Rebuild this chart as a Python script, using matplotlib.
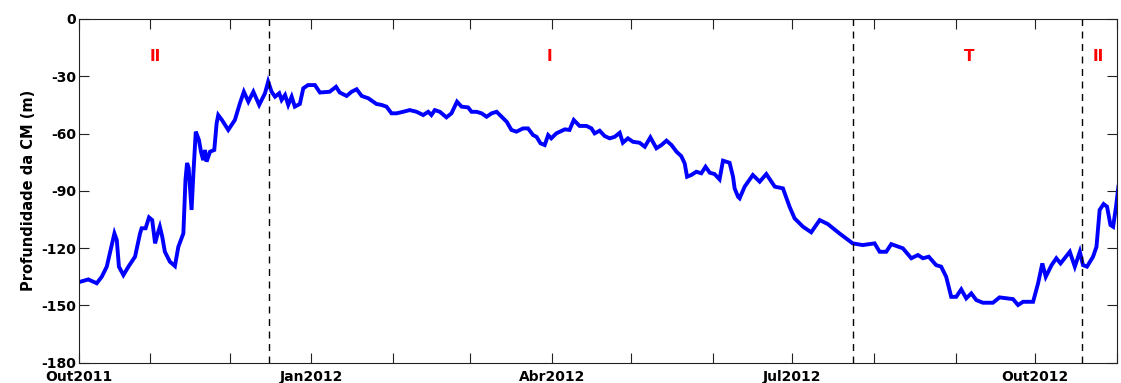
import pandas as pd
import matplotlib.pyplot as plt

# Mixed-layer depth series (days since 2011-10-05, depth in m)
start_date = pd.Timestamp('2011-10-05')
days = [0, 3.5, 6.7, 8.6, 10.5, 11.7, 13.4, 14.3, 15.1, 16.8, 18.7, 21.2, 23.1, 23.7,
        25.2, 26.5, 27.7, 28.8, 29.8, 30.6, 31.5, 32.5, 34.4, 36.3, 37.6, 39.5, 40.3,
        40.9, 41.5, 42.0, 42.6, 43.3, 44.2, 45.4, 46.2, 47.0, 47.7, 48.3, 49.6, 51.2,
        52.1, 52.7, 54.1, 56.5, 59.0, 60.9, 62.4, 64.1, 66.0, 68.2, 70.4, 71.6, 72.9,
        74.2, 75.8, 76.7, 78.0, 79.2, 80.5, 81.7, 83.6, 84.9, 86.7, 89.3, 91.2, 94.9,
        97.3, 98.7, 101.3, 103.2, 105.1, 107.0, 109.5, 112.6, 114.5, 116.4, 118.3,
        120.2, 122.7, 125.2, 127.8, 130.3, 132.2, 133.4, 134.7, 136.6, 139.1, 141.0,
        143.1, 144.8, 147.3, 148.6, 150.5, 152.4, 154.3, 156.2, 158.1, 160.0, 161.9,
        163.7, 165.6, 168.1, 170.0, 171.9, 173.2, 174.7, 176.3, 177.6, 178.8, 180.7,
        183.9, 185.7, 187.3, 189.5, 192.1, 194.0, 195.2, 197.1, 199.0, 200.9, 202.8,
        204.7, 205.9, 207.8, 209.7, 212.2, 214.2, 216.3, 218.6, 220.5, 222.4, 224.3,
        226.2, 228.0, 229.3, 230.2, 231.8, 233.7, 235.6, 237.2, 238.8, 240.6, 242.5,
        243.8, 246.3, 247.6, 248.2, 249.5, 250.1, 252.0, 255.1, 257.7, 260.2, 263.4,
        266.5, 269.0, 270.9, 274.1, 277.2, 280.4, 283.5, 287.9, 292.9, 296.7, 301.2,
        303.1, 305.6, 307.5, 311.9, 315.1, 317.6, 319.5, 321.7, 324.5, 326.4, 328.3,
        330.2, 332.1, 334.0, 335.9, 337.8, 339.7, 342.2, 346.0, 348.5, 353.6, 355.5,
        357.4, 361.2, 363.1, 364.7, 366.0, 368.2, 370.0, 371.6, 373.6, 375.1, 377.0,
        378.9, 380.1, 381.6, 383.9, 385.2, 386.4, 387.9, 389.2, 390.5, 391.5, 392.6,
        393.5]
depth = [-137.8, -136.4, -138.4, -135.0, -129.7, -122.6, -112.3, -115.8, -129.7, -134.1,
         -129.7, -124.5, -112.3, -109.6, -109.6, -103.9, -105.3, -117.5, -112.3, -108.8,
         -114.0, -121.9, -127.1, -129.4, -119.3, -112.3, -84.3, -75.4, -78.0, -87.8,
         -100.0, -80.8, -59.0, -63.4, -69.7, -73.9, -68.6, -74.7, -69.5, -68.6, -54.6,
         -50.3, -52.9, -58.1, -52.9, -44.2, -38.1, -43.3, -38.1, -45.0, -38.9, -32.8,
         -38.1, -40.7, -38.9, -42.4, -39.8, -45.0, -40.7, -45.9, -44.5, -36.3, -34.6,
         -34.6, -38.5, -38.1, -35.5, -38.5, -40.3, -38.1, -36.8, -40.3, -41.5, -44.5,
         -45.0, -45.9, -49.4, -49.4, -48.6, -47.7, -48.6, -50.3, -48.6, -50.3, -47.7,
         -48.6, -51.5, -49.4, -43.3, -45.9, -46.3, -48.6, -48.6, -49.4, -51.2, -49.4,
         -48.6, -51.2, -53.8, -58.1, -59.0, -57.3, -57.3, -60.8, -61.7, -65.1, -66.0,
         -60.8, -62.5, -59.9, -57.8, -58.1, -52.9, -56.0, -56.0, -57.3, -59.9, -58.5,
         -61.3, -62.5, -61.7, -59.6, -64.8, -62.5, -64.3, -64.8, -66.9, -62.0, -67.7,
         -66.0, -63.7, -66.0, -69.5, -71.8, -75.6, -82.6, -81.7, -80.0, -80.8, -77.4,
         -80.5, -81.2, -84.0, -74.2, -75.3, -82.6, -88.7, -93.1, -93.9, -87.8, -81.7,
         -85.2, -81.2, -87.8, -88.7, -98.3, -104.4, -108.8, -111.7, -105.3, -107.4,
         -112.3, -117.5, -118.4, -117.5, -121.9, -121.9, -117.9, -120.1, -125.3, -123.6,
         -125.3, -124.5, -128.9, -129.7, -135.0, -145.5, -145.5, -141.6, -146.3, -143.7,
         -147.2, -148.6, -148.6, -145.8, -146.7, -149.8, -148.1, -148.1, -138.4, -128.0,
         -135.0, -128.9, -125.3, -128.0, -124.5, -121.9, -129.7, -121.9, -128.9, -129.7,
         -124.5, -119.3, -100.0, -96.9, -98.3, -107.9, -108.8, -98.3, -87.8]

# Regime boundaries and labels
boundaries = ['2011-12-16', '2012-07-24', '2012-10-18 14:00']
regime_names = ['II', 'I', 'T', 'II']
regime_dates = ['2011-11-03', '2012-03-31', '2012-09-06', '2012-10-25']

tick_dates = ['2011-10-05', '2011-11-01', '2011-12-01', '2012-01-01', '2012-02-01',
              '2012-03-01', '2012-04-01', '2012-05-01', '2012-06-01', '2012-07-01',
              '2012-08-01', '2012-09-01', '2012-10-01', '2012-11-01']
tick_labels = ['Out2011', '', '', 'Jan2012', '', '', 'Abr2012', '', '', 'Jul2012',
               '', '', 'Out2012', '']
yticks = [0, -30, -60, -90, -120, -150, -180]


def main():
    dates = start_date + pd.to_timedelta(days, unit='D')

    fig = plt.figure(figsize=(11.21, 3.83), dpi=100)
    ax = fig.add_axes([0.0705, 0.053, 0.926, 0.8974])

    ax.plot(dates, depth, color='#0000ff', linewidth=2.8, solid_joinstyle='miter')

    for b in boundaries:
        ax.axvline(pd.Timestamp(b), color='black', linestyle=(0, (5, 4)), linewidth=1.0)

    for name, d in zip(regime_names, regime_dates):
        ax.text(pd.Timestamp(d), -19.5, name, color='red', fontsize=11,
                fontweight='bold', ha='center', va='center')

    ax.set_xlim(pd.Timestamp('2011-10-05'), pd.Timestamp('2012-11-01'))
    ax.set_ylim(-180, 0)
    ax.set_xticks([pd.Timestamp(t) for t in tick_dates])
    ax.set_xticklabels(tick_labels)
    ax.set_yticks(yticks)
    ax.set_yticklabels([str(v) for v in yticks])
    ax.tick_params(direction='in', length=7.5, width=0.8, top=True, right=True,
                   labelsize=10, colors='#222222')
    ax.tick_params(axis='x', pad=5)
    ax.tick_params(axis='y', pad=2)
    for lab in ax.get_xticklabels() + ax.get_yticklabels():
        lab.set_fontweight('bold')
        lab.set_color('black')
    for s in ax.spines.values():
        s.set_linewidth(0.8)
        s.set_color('#222222')

    ax.set_ylabel('Profundidade da CM (m)', fontsize=10.5, fontweight='bold', labelpad=4)

    fig.savefig('out.png', dpi=100)
    plt.close(fig)


if __name__ == "__main__":
    main()
